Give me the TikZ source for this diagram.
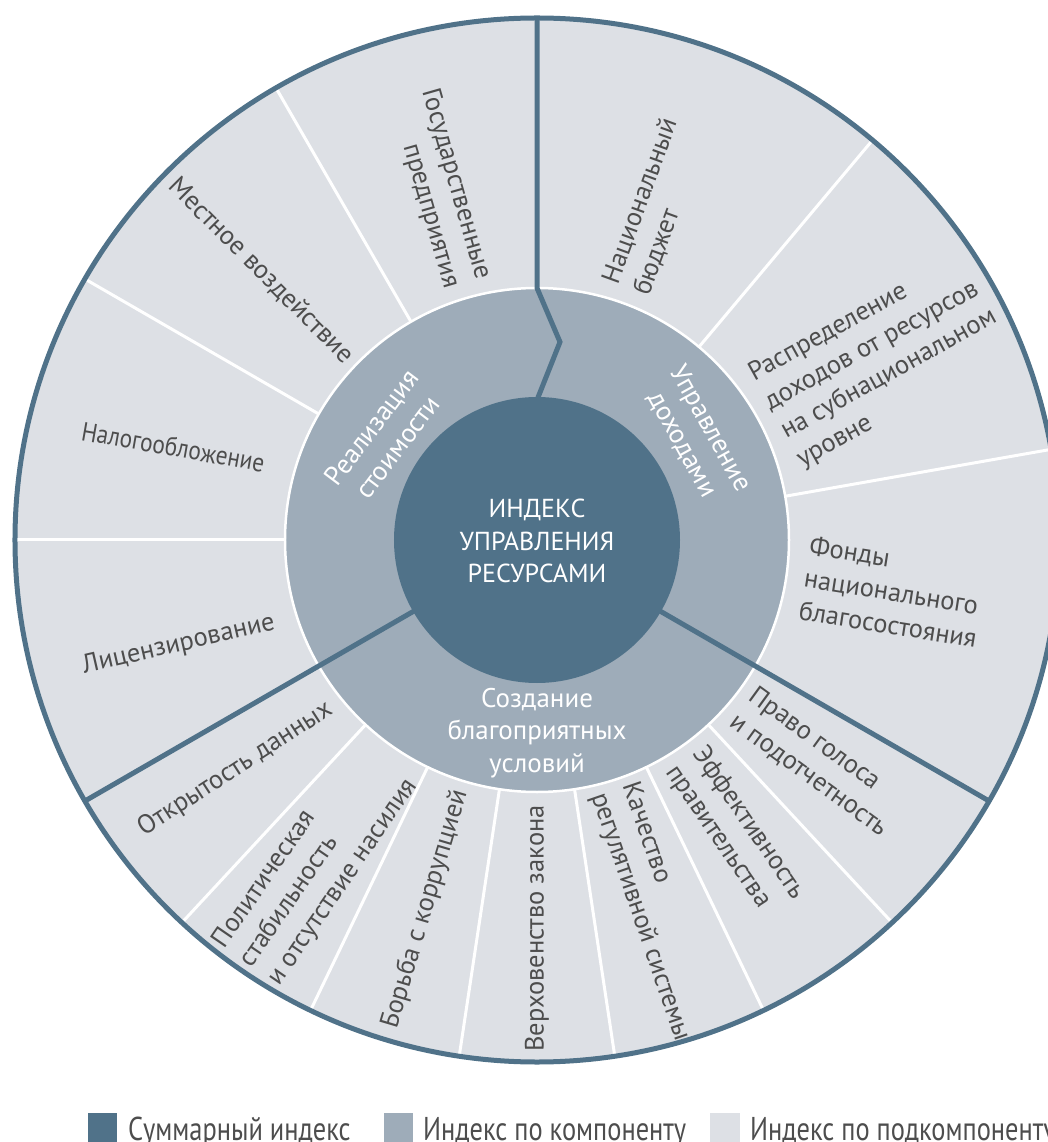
\documentclass[tikz,border=0pt]{standalone}
\usepackage{fontspec}
\setmainfont{PT Sans}
\newfontfamily\legendfont[FakeStretch=0.8]{PT Sans}
\newfontfamily\narrowfont[FakeStretch=0.88]{PT Sans}
\usetikzlibrary{calc}
\definecolor{idxdark}{RGB}{80,114,137}
\definecolor{idxmid}{RGB}{158,172,185}
\definecolor{idxlight}{RGB}{221,224,229}
\definecolor{idxtext}{RGB}{77,77,77}
\def\spoke[#1](#2:#3:#4){\draw[#1] (#2:#3) -- (#2:#4);}
\tikzset{
  subtext/.style={text=idxtext, inner sep=0pt, font=\fontsize{26.5}{33}\selectfont},
  comptext/.style={text=white, inner sep=0pt, align=center, font=\fontsize{27}{32.5}\selectfont},
  legtext/.style={text=idxtext, inner sep=0pt, font=\legendfont\fontsize{33}{36}\selectfont},
  whiteline/.style={white, line width=3pt},
  blueline/.style={idxdark, line width=5pt},
}

\begin{document}
\begin{tikzpicture}[x=1pt, y=1pt]
			%%%%% START %%%%%
			\useasboundingbox (-537,-602) rectangle (511,540);
			\clip (-537,-602) rectangle (511,540);
			
			\fill[idxlight] (0,0) circle (522pt);
			
			\spoke[whiteline](50:250pt:522pt)
			\spoke[whiteline](10:250pt:522pt)
			\spoke[whiteline](120:250pt:522pt)
			\spoke[whiteline](150:250pt:522pt)
			\spoke[whiteline](180:250pt:522pt)
			\spoke[whiteline](227.14:250pt:522pt)
			\spoke[whiteline](244.29:250pt:522pt)
			\spoke[whiteline](261.43:250pt:522pt)
			\spoke[whiteline](278.57:250pt:522pt)
			\spoke[whiteline](295.71:250pt:522pt)
			\spoke[whiteline](312.86:250pt:522pt)
			
			\draw[white, line width=2.5pt, fill=idxmid] (0,0) circle (252pt);
			
			\draw[blueline] (90:522pt) -- (90:252pt) -- (23,198) -- (90:140pt);
			\spoke[blueline](-30:140pt:522pt)
			\spoke[blueline](210:140pt:522pt)
			
			\fill[idxdark] (0,0) circle (143pt);
			\draw[idxdark, line width=5pt] (0,0) circle (522pt);
			
			\node[comptext, font=\fontsize{26}{32.5}\selectfont] (idx) at (0,-1) {ИНДЕКС\\УПРАВЛЕНИЯ\\РЕСУРСАМИ};
			
			\node[comptext, rotate=53] (real) at (146:184pt) {Реализация\\стоимости};
			\node[comptext, rotate=-61] (upr) at (33:190pt) {Управление\\доходами};
			\node[comptext] (sozd) at (-90:193pt) {Создание\\благоприятных\\условий};
			
			\node[subtext, rotate=-74, anchor=east, align=right] (gos) at (105.3:266pt) {Государственные\\предприятия};
			\node[subtext, rotate=-45, anchor=east] (mest) at (136:260pt) {Местное воздействие};
			\node[subtext, rotate=-10, anchor=east, font=\narrowfont\fontsize{26.5}{33}\selectfont] (nalog) at (164.2:283pt) {Налогообложение};
			\node[subtext, rotate=13, anchor=east] (lic) at (197.5:275pt) {Лицензирование};
			
			\node[subtext, rotate=33, anchor=east] (otkr) at (219:266pt) {Открытость данных};
			\node[subtext, rotate=55.5, anchor=east, align=left] (polit) at (235.7:270pt) {Политическая\\стабильность\\и отсутствие насилия};
			\node[subtext, rotate=73.5, anchor=east] (borba) at (253:262pt) {Борьба с коррупцией};
			\node[subtext, rotate=90, anchor=east] (verh) at (-90:265pt) {Верховенство закона};
			\node[subtext, rotate=-71, anchor=west, align=left] (kach) at (-73:260pt) {Качество\\регулятивной системы};
			\node[subtext, rotate=-55.5, anchor=west, align=left] (eff) at (-56:264pt) {Эффективность\\правительства};
			\node[subtext, rotate=-36, anchor=west, align=left] (pravo) at (-39:264pt) {Право голоса\\и подотчетность};
			
			\node[subtext, rotate=-9, anchor=west, align=left] (fond) at (-8:270pt) {Фонды\\национального\\благосостояния};
			\node[subtext, rotate=29, anchor=west, align=left] (rasp) at (27:267pt) {Распределение\\доходов от ресурсов\\на субнациональном\\уровне};
			\node[subtext, rotate=70, anchor=west, align=left] (nat) at (70.5:267pt) {Национальный\\бюджет};
			
			\fill[idxdark] (-449,-573) rectangle (-420,-610);
			\node[legtext, anchor=base west] (leg1) at (-409,-600) {Суммарный индекс};
			\fill[idxmid] (-153,-573) rectangle (-124,-610);
			\node[legtext, anchor=base west] (leg2) at (-114,-600) {Индекс по компоненту};
			\fill[idxlight] (173,-573) rectangle (203,-610);
			\node[legtext, anchor=base west] (leg3) at (213,-600) {Индекс по подкомпоненту};
			
			%%%%% END %%%%%
\end{tikzpicture}
\end{document}
